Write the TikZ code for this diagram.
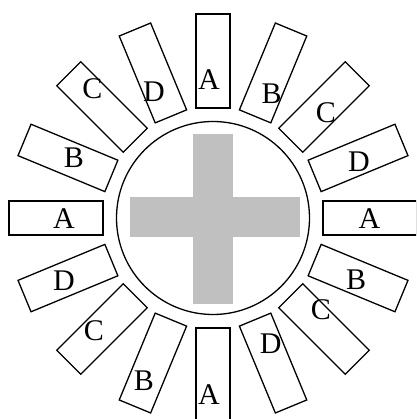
\documentclass[tikz,border=0pt]{standalone}
\usepackage{fontspec}
\setmainfont{Liberation Serif}
\definecolor{crossgray}{RGB}{192,192,192}

\begin{document}
\begin{tikzpicture}[x=1pt,y=1pt,line width=1.3pt]
        \clip (-213,-201) rectangle (203,218);
        \fill[crossgray] (-20,-86) rectangle (20,84);
        \fill[crossgray] (-83,-19) rectangle (87,21);
        \draw (0,0) circle (96.5);
        \foreach \a in {0,22.5,...,337.5}
          \draw[rotate=\a] (110,-17) rectangle (204,17);
        \foreach \x/\y/\t [count=\n] in {-4/138/A,58.7/124.3/B,112.8/105.5/C,146/56.3/D,
            156.5/-1/A,143/-62/B,107.8/-92/C,57.8/-126.2/D,-4/-176.5/A,-69/-162.8/B,
            -119/-113/C,-149/-63/D,-149/-1/A,-139/60/B,-120.5/129/C,-59/126/D}
          \node[font=\fontsize{30}{30}\selectfont,inner sep=0pt] (lab\n) at (\x,\y) {\t};
      \end{tikzpicture}
\end{document}
